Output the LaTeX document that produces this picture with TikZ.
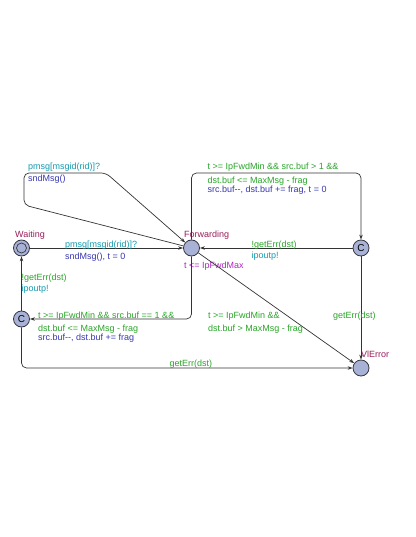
\documentclass[tikz,border=0pt]{standalone}
\usepackage{fontspec}
\setmainfont{Liberation Sans}
\usetikzlibrary{arrows.meta}
\definecolor{locname}{RGB}{150,30,90}
\definecolor{guardc}{RGB}{40,165,40}
\definecolor{syncc}{RGB}{20,155,175}
\definecolor{updc}{RGB}{55,55,175}
\definecolor{invc}{RGB}{170,40,190}
\definecolor{locfill}{RGB}{168,178,214}
\definecolor{locdraw}{RGB}{55,55,65}
\tikzset{
  loc/.style={circle,draw=locdraw,fill=locfill,line width=0.8pt,minimum size=16pt,inner sep=0pt},
  edge/.style={draw=black!80,line width=0.7pt,rounded corners=5pt,-{Stealth[length=5pt,width=3.5pt]}},
  lab/.style={anchor=base west,inner sep=0pt,font=\fontsize{9}{11}\selectfont},
  nm/.style={lab,text=locname},
  gd/.style={lab,text=guardc},
  sy/.style={lab,text=syncc},
  up/.style={lab,text=updc},
  iv/.style={lab,text=invc}
}
\begin{document}
\begin{tikzpicture}[x=1pt,y=-1pt]
\useasboundingbox (0,0) rectangle (415,537);
% locations
\node[loc] (W) at (21.5,248) {};
\node[circle,draw=locdraw,line width=0.7pt,minimum size=10pt,inner sep=0pt] (Wi) at (W) {};
\node[loc] (F) at (191.5,248) {};
\node[loc] (CR) at (361,248) {\fontsize{10}{11}\selectfont C};
\node[loc] (CL) at (21.5,319) {\fontsize{10}{11}\selectfont C};
\node[loc] (E) at (361,368) {};
% names
\node[nm] (nW) at (15,237) {Waiting};
\node[nm] (nF) at (184,237) {Forwarding};
\node[nm] (nE) at (361,357) {VlError};
\node[iv] (iF) at (184,268.5) {t <= IpFwdMax};
% coordinates
\coordinate (a1) at (24,205);
\coordinate (a2) at (24,173);
\coordinate (a3) at (106,173);
\coordinate (b1) at (191.5,173);
\coordinate (b2) at (361,173);
\coordinate (c1) at (191.5,319);
\coordinate (d1) at (21.5,368);
% edges
\draw[edge] (W) -- (F);
\draw[edge] (F) -- (a1) -- (a2) -- (a3) -- (F);
\draw[edge] (F) -- (b1) -- (b2) -- (CR);
\draw[edge] (CR) -- (F);
\draw[edge] (CR) -- (E);
\draw[edge] (F) -- (E);
\draw[edge] (F) -- (c1) -- (CL);
\draw[edge] (CL) -- (W);
\draw[edge] (CL) -- (d1) -- (E);
% labels: self loop
\node[sy] (s1) at (28,170) {pmsg[msgid(rid)]?};
\node[up] (u1) at (28,182) {sndMsg()};
% Waiting -> Forwarding
\node[sy] (s2) at (65,247.5) {pmsg[msgid(rid)]?};
\node[up] (u2) at (65,259) {sndMsg(), t = 0};
% Forwarding -> CR
\node[gd] (g3a) at (207.5,170) {t >= IpFwdMin \&\& src.buf > 1 \&\&};
\node[gd] (g3b) at (207.5,183.5) {dst.buf <= MaxMsg - frag};
\node[up] (u3) at (207.5,192.5) {src.buf-{}-, dst.buf += frag, t = 0};
% CR -> Forwarding
\node[gd] (g4) at (251.5,247.5) {!getErr(dst)};
\node[sy] (s4) at (251.5,258.5) {ipoutp!};
% CL -> Waiting
\node[gd] (g5) at (21.5,280) {!getErr(dst)};
\node[sy] (s5) at (21.5,291) {ipoutp!};
% Forwarding -> CL
\node[gd] (g6a) at (38,318.5) {t >= IpFwdMin \&\& src.buf == 1 \&\&};
\node[gd] (g6b) at (38,331) {dst.buf <= MaxMsg - frag};
\node[up] (u6) at (38,340) {src.buf-{}-, dst.buf += frag};
% Forwarding -> VlError
\node[gd] (g7a) at (208,318.5) {t >= IpFwdMin \&\&};
\node[gd] (g7b) at (208,331.5) {dst.buf > MaxMsg - frag};
% CR -> VlError
\node[gd] (g8) at (333,318.5) {getErr(dst)};
% CL -> VlError
\node[gd] (g9) at (169.5,366.5) {getErr(dst)};
\end{tikzpicture}
\end{document}
